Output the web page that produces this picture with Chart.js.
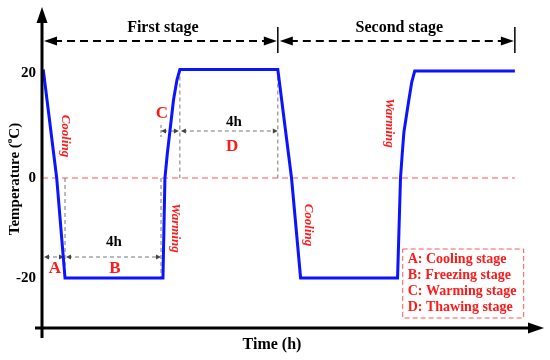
<!DOCTYPE html>
<html>
<head>
<meta charset="utf-8">
<script src="https://cdn.jsdelivr.net/npm/chart.js@4"></script>
<style>
    html, body { margin: 0; padding: 0; background: #fff; }
    #wrap { width: 550px; height: 360px; }
</style>
</head>
<body>
<div id="wrap"><canvas id="chart-temp"></canvas></div>
<script>
// temperature curve (time in h, temperature in the chart's units)
var times = [0.05, 0.6, 0.94, 4.94, 5.02, 5.12, 5.22, 5.37, 5.51, 5.63, 9.63, 10.19, 10.56, 14.52, 14.64, 14.71, 14.78, 14.98, 15.1, 15.22, 19.31];
var temps = [21.7, 0, -20, -20, 0, 5, 9.2, 15.6, 19.6, 21.7, 21.7, 0, -20, -20, 0, 4.8, 9.2, 15.6, 19.2, 21.4, 21.4];

var yTickPos = [-20, 0, 21];
var yTickLabels = ['-20', '0', '20'];

var stageNames = ['First stage', 'Second stage'];
var stageBounds = [0, 9.63, 19.31];

var legendLines = ['A: Cooling stage', 'B: Freezing stage', 'C: Warming stage', 'D: Thawing stage'];

var RED = '#ff1a1a';
var SERIF = '"Liberation Serif", "Times New Roman", serif';

function line(ctx, x1, y1, x2, y2, color, width, dash) {
    ctx.save();
    ctx.strokeStyle = color;
    ctx.lineWidth = width;
    ctx.setLineDash(dash || []);
    ctx.beginPath();
    ctx.moveTo(x1, y1);
    ctx.lineTo(x2, y2);
    ctx.stroke();
    ctx.restore();
}

// filled arrow head, tip at (x, y), dx/dy = direction it points to
function head(ctx, x, y, dx, dy, len, hw, color) {
    ctx.save();
    ctx.fillStyle = color;
    ctx.beginPath();
    ctx.moveTo(x, y);
    ctx.lineTo(x - dx * len - dy * hw, y - dy * len + dx * hw);
    ctx.lineTo(x - dx * len + dy * hw, y - dy * len - dx * hw);
    ctx.closePath();
    ctx.fill();
    ctx.restore();
}

function text(ctx, str, x, y, font, color, align, rot) {
    ctx.save();
    ctx.font = font;
    ctx.fillStyle = color;
    ctx.textAlign = align || 'center';
    ctx.textBaseline = 'middle';
    ctx.translate(x, y);
    if (rot) ctx.rotate(rot);
    ctx.fillText(str, 0, 0);
    ctx.restore();
}

function greyArrow(ctx, x1, x2, y) {
    line(ctx, x1 + 2, y, x2 - 2, y, '#777', 1, [4, 3]);
    head(ctx, x1, y, -1, 0, 5, 2.5, '#444');
    head(ctx, x2, y, 1, 0, 5, 2.5, '#444');
}

var schematic = {
    id: 'schematic',
    beforeDatasetsDraw: function(chart) {
        var ctx = chart.ctx;
        var sx = chart.scales.x, sy = chart.scales.y;
        var px = function(v) { return sx.getPixelForValue(v); };
        var py = function(v) { return sy.getPixelForValue(v); };

        // zero line
        line(ctx, px(0), py(0), px(stageBounds[2]), py(0), '#ff5555', 1.2, [6, 4]);

        // 4h guides
        line(ctx, px(times[2]), py(0), px(times[2]), py(-20), '#777', 1, [4, 3]);
        line(ctx, px(4.86), py(0), px(4.86), py(-20), '#777', 1, [4, 3]);
        line(ctx, px(times[9]), py(temps[9]), px(times[9]), py(0), '#777', 1, [4, 3]);
        line(ctx, px(times[10]), py(temps[10]), px(times[10]), py(0), '#777', 1, [4, 3]);
        line(ctx, px(4.86), py(9.4) - 6, px(4.86), py(9.4) + 6, '#777', 1, [3, 2]);

        greyArrow(ctx, px(0) + 2, px(times[2]) - 1, py(-15.8));
        greyArrow(ctx, px(times[2]) + 1, px(4.86), py(-15.8));
        greyArrow(ctx, px(4.86), px(times[9]) - 1, py(9.4));
        greyArrow(ctx, px(times[9]) + 1, px(times[10]), py(9.4));
    },
    afterDatasetsDraw: function(chart) {
        var ctx = chart.ctx;
        var sx = chart.scales.x, sy = chart.scales.y;
        var px = function(v) { return sx.getPixelForValue(v); };
        var py = function(v) { return sy.getPixelForValue(v); };
        var x0 = px(0), yb = py(sy.min);

        // axes
        line(ctx, x0, yb + 10, x0, sy.top + 12, '#000', 3);
        head(ctx, x0, sy.top - 1, 0, -1, 16, 5.5, '#000');
        line(ctx, x0 - 7, yb, sx.right - 12, yb, '#000', 3);
        head(ctx, sx.right, yb, 1, 0, 16, 5.5, '#000');

        // y ticks
        for (var i = 0; i < yTickPos.length; i++) {
            text(ctx, yTickLabels[i], x0 - 6, py(yTickPos[i]), 'bold 15px ' + SERIF, '#000', 'right');
        }

        // axis titles
        text(ctx, 'Time (h)', 272, 345, 'bold 16px ' + SERIF, '#000');
        ctx.save();
        ctx.translate(15, 179);
        ctx.rotate(-Math.PI / 2);
        ctx.fillStyle = '#000';
        ctx.textBaseline = 'middle';
        var a = 'Temperature (', c = 'C)';
        ctx.font = 'bold 15px ' + SERIF;
        var wa = ctx.measureText(a).width, wc = ctx.measureText(c).width;
        ctx.font = 'bold 9px ' + SERIF;
        var wo = ctx.measureText('o').width;
        var start = -(wa + wo + wc) / 2;
        ctx.font = 'bold 15px ' + SERIF;
        ctx.textAlign = 'left';
        ctx.fillText(a, start, 0);
        ctx.fillText(c, start + wa + wo, 0);
        ctx.font = 'bold 9px ' + SERIF;
        ctx.fillText('o', start + wa, -5);
        ctx.restore();

        // stage arrows
        var ys = py(27.4);
        for (var s = 0; s < stageNames.length; s++) {
            var xa = px(stageBounds[s]), xb = px(stageBounds[s + 1]);
            line(ctx, xa + 12, ys, xb - 12, ys, '#000', 2, [8, 5]);
            head(ctx, xa + 2, ys, -1, 0, 13, 4.5, '#000');
            head(ctx, xb - 1, ys, 1, 0, 13, 4.5, '#000');
            line(ctx, xb, ys - 14, xb, ys + 12, '#000', 1.5);
            text(ctx, stageNames[s], (xa + xb) / 2 + 3, ys - 13, 'bold 16px ' + SERIF, '#000');
        }

        // phase letters and durations
        var big = 'bold 17px ' + SERIF;
        text(ctx, 'A', px(0.53), py(-18.2), big, RED);
        text(ctx, 'B', px(2.98), py(-18.2), big, RED);
        text(ctx, 'C', px(4.9), py(12.8), big, RED);
        text(ctx, 'D', px(7.76), py(6.2), big, RED);
        text(ctx, '4h', px(2.94), py(-12.8), 'bold 15px ' + SERIF, '#000');
        text(ctx, '4h', px(7.84), py(11.2), 'bold 15px ' + SERIF, '#000');

        var it = 'italic bold 13px ' + SERIF;
        text(ctx, 'Cooling', px(0.94), py(8.4), it, RED, 'center', Math.PI / 2);
        text(ctx, 'Warming', px(5.43), py(-10), it, RED, 'center', Math.PI / 2);
        text(ctx, 'Cooling', px(10.86), py(-9.4), it, RED, 'center', Math.PI / 2);
        text(ctx, 'Warming', px(14.2), py(11), it, RED, 'center', Math.PI / 2);

        // legend box
        var bx1 = px(14.73), bx2 = px(19.67), by1 = py(-14.2), by2 = py(-28);
        ctx.save();
        ctx.strokeStyle = '#ff5555';
        ctx.lineWidth = 1;
        ctx.setLineDash([5, 3]);
        ctx.strokeRect(bx1, by1, bx2 - bx1, by2 - by1);
        ctx.restore();
        for (var k = 0; k < legendLines.length; k++) {
            text(ctx, legendLines[k], bx1 + 5, by1 + 10 + k * 16, 'bold 14px ' + SERIF, RED, 'left');
        }
    }
};

function chart() {
    var ctx = document.getElementById('chart-temp');
    var points = times.map(function(t, i) { return { x: t, y: temps[i] }; });
    new Chart(ctx, {
        type: 'line',
        data: {
            datasets: [{
                label: 'Temperature',
                data: points,
                borderColor: '#0a14ff',
                borderWidth: 3,
                pointRadius: 0,
                tension: 0,
                fill: false
            }]
        },
        options: {
            responsive: true,
            maintainAspectRatio: false,
            animation: false,
            layout: { padding: { left: 42, right: 6, top: 8, bottom: 32 } },
            plugins: { legend: { display: false }, tooltip: { enabled: false } },
            scales: {
                x: { type: 'linear', min: 0, max: 20.5, display: false },
                y: { type: 'linear', min: -30, max: 34, display: false }
            }
        },
        plugins: [schematic]
    });
}
chart();
</script>
</body>
</html>
